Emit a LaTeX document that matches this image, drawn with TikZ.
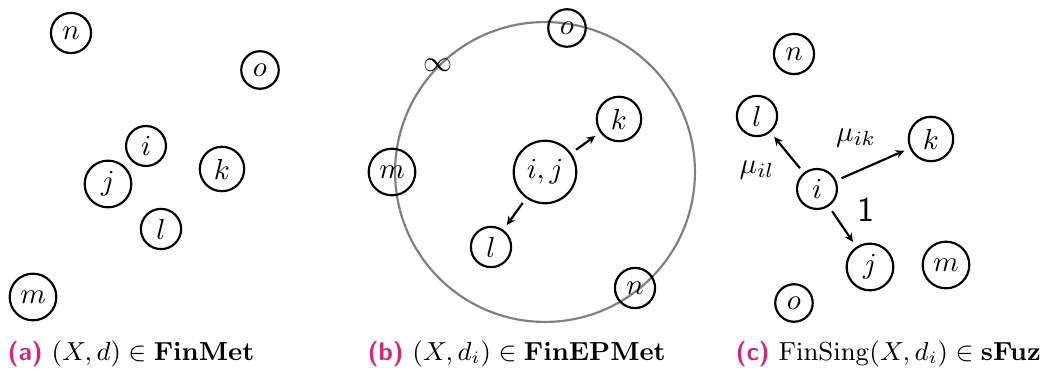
\documentclass[tikz,border=0pt]{standalone}
\usetikzlibrary{arrows.meta}
\definecolor{capmag}{RGB}{208,40,128}
\begin{document}
\begin{tikzpicture}[x=0.3448pt,y=-0.3448pt,
  ptnode/.style={circle,draw,line width=0.75pt,inner sep=2.3pt},
  arr/.style={-{Stealth[length=3pt,width=2.8pt]},line width=0.75pt,shorten >=2pt,shorten <=2pt},
  captxt/.style={anchor=base west,inner sep=0pt,font=\fontsize{8.8}{10}\selectfont},
  lbl/.style={inner sep=0pt}]
\useasboundingbox (0,0) rectangle (1040,371);
% (a)
\node[ptnode] (an) at (71,33) {$n$};
\node[ptnode] (ao) at (260,70) {$o$};
\node[ptnode] (ai) at (146,146) {$i$};
\node[ptnode] (aj) at (108,184) {$j$};
\node[ptnode] (ak) at (222,169) {$k$};
\node[ptnode] (al) at (161,229) {$l$};
\node[ptnode] (am) at (33,297) {$m$};
\node[captxt] (capa) at (7,361) {\textcolor{capmag}{\sffamily\bfseries(a)}\ $(X,d)\in\mathbf{FinMet}$};
% (b)
\coordinate (bc) at (545,172);
\draw[gray,line width=0.75pt] (bc) circle [radius=51.7pt];
\node[lbl] (binf) at (438,65) {$\infty$};
\node[ptnode] (bo) at (567,28) {$o$};
\node[ptnode] (bk) at (619,119) {$k$};
\node[ptnode] (bij) at (545,172) {$i,j$};
\node[ptnode] (bm) at (392,172) {$m$};
\node[ptnode] (bl) at (491,247) {$l$};
\node[ptnode] (bn) at (635,288) {$n$};
\draw[arr] (bij) -- (bk);
\draw[arr] (bij) -- (bl);
\node[captxt] (capb) at (367,361) {\textcolor{capmag}{\sffamily\bfseries(b)}\ $(X,d_i)\in\mathbf{FinEPMet}$};
% (c)
\node[ptnode] (cn) at (794,54) {$n$};
\node[ptnode] (cl) at (757,116) {$l$};
\node[ptnode] (ck) at (931,139) {$k$};
\node[ptnode] (ci) at (817,189) {$i$};
\node[ptnode] (cj) at (870,267) {$j$};
\node[ptnode] (cm) at (946,265) {$m$};
\node[ptnode] (co) at (794,303) {$o$};
\draw[arr] (ci) -- (cl);
\draw[arr] (ci) -- (ck);
\draw[arr] (ci) -- (cj);
\node[lbl] (lik) at (856,138) {$\mu_{ik}$};
\node[lbl] (lil) at (757,170) {$\mu_{il}$};
\node[lbl] (l1) at (866,210) {\large\sffamily 1};
\node[captxt] (capc) at (735,361) {\textcolor{capmag}{\sffamily\bfseries(c)}\ $\mathrm{FinSing}(X,d_i)\in\mathbf{sFuz}$};
\end{tikzpicture}
\end{document}
